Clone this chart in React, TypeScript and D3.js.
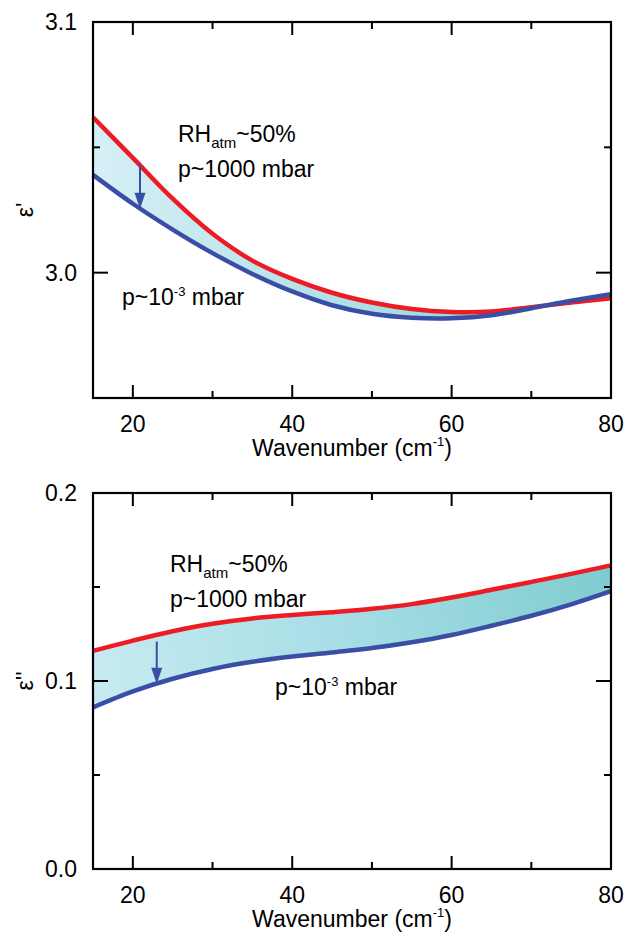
import React from "react";
import * as d3 from "d3";

// ---------- data ----------
const wavenumbers = [15, 20, 25, 30, 35, 40, 45, 50, 55, 60, 65, 70, 75, 80];
// epsilon' (real part)
const epsRealAmbient = [3.062, 3.0458, 3.0295, 3.0155, 3.0048, 2.9975, 2.992, 2.9881, 2.9855, 2.9843, 2.9845, 2.9862, 2.9881, 2.9898];
const epsRealVacuum = [3.039, 3.0275, 3.0172, 3.0078, 2.9995, 2.9925, 2.987, 2.9836, 2.982, 2.9818, 2.983, 2.9858, 2.9888, 2.9914];
// epsilon'' (imaginary part)
const epsImagAmbient = [0.116, 0.1215, 0.1265, 0.1305, 0.1333, 0.1351, 0.1366, 0.1384, 0.1409, 0.1444, 0.1485, 0.1527, 0.157, 0.1615];
const epsImagVacuum = [0.086, 0.0945, 0.1012, 0.1064, 0.1102, 0.113, 0.1152, 0.1175, 0.1206, 0.1245, 0.1294, 0.1347, 0.1408, 0.1478];

const xDomain: [number, number] = [15, 80];
const xMajorTicks = [20, 40, 60, 80];
const xMinorTicks = [30, 50, 70];

const realDomain: [number, number] = [2.95, 3.1];
const realMajorTicks = [3.0, 3.1];
const realMinorTicks = [2.95, 3.05];

const imagDomain: [number, number] = [0.0, 0.2];
const imagMajorTicks = [0.0, 0.1, 0.2];
const imagMinorTicks = [0.05, 0.15];

// arrows: [wavenumber, from value, to value]
const realArrow = [20.9, 3.0435, 3.0255];
const imagArrow = [23.0, 0.121, 0.0985];

const RED = "#ed1c24";
const BLUE = "#3a4ea6";
const FONT = "'Liberation Sans', Arial, Helvetica, sans-serif";
const FS = 23;

type PanelProps = {
  id: string;
  top: number;
  bottom: number;
  yDomain: [number, number];
  yMajor: number[];
  yMinor: number[];
  ambient: number[];
  vacuum: number[];
  arrow: number[];
  yLabel: string;
  gradStops: [string, string, string];
  gradDiag: boolean;
  rhPos: [number, number];
  pPos: [number, number];
  vacPos: [number, number];
};

const LEFT = 93;
const RIGHT = 611;

function Panel(p: PanelProps) {
  const x = d3.scaleLinear().domain(xDomain).range([LEFT, RIGHT]);
  const y = d3.scaleLinear().domain(p.yDomain).range([p.bottom, p.top]);
  const pts = wavenumbers.map((w, i) => ({ w, a: p.ambient[i], v: p.vacuum[i] }));
  const curve = d3.curveCatmullRom.alpha(0.5);
  const area = d3
    .area<{ w: number; a: number; v: number }>()
    .x((d) => x(d.w))
    .y0((d) => y(d.v))
    .y1((d) => y(d.a))
    .curve(curve);
  const lineA = d3
    .line<{ w: number; a: number; v: number }>()
    .x((d) => x(d.w))
    .y((d) => y(d.a))
    .curve(curve);
  const lineV = d3
    .line<{ w: number; a: number; v: number }>()
    .x((d) => x(d.w))
    .y((d) => y(d.v))
    .curve(curve);

  const bandTop = d3.min(pts, (d) => y(Math.max(d.a, d.v))) as number;
  const bandBot = d3.max(pts, (d) => y(Math.min(d.a, d.v))) as number;

  const fmt = d3.format(".1f");
  const ax = x(p.arrow[0]);
  const ay1 = y(p.arrow[1]);
  const ay2 = y(p.arrow[2]);
  const headL = 16;
  const headW = 5.5;
  const majX = 13;
  const majY = 15;
  const minL = 7;
  const midY = (p.top + p.bottom) / 2;

  return (
    <g>
      <defs>
        <linearGradient
          id={p.id}
          gradientUnits="userSpaceOnUse"
          x1={LEFT}
          y1={p.gradDiag ? bandBot : 0}
          x2={RIGHT}
          y2={p.gradDiag ? bandTop : 0}
        >
          <stop offset="0" stopColor={p.gradStops[0]} />
          <stop offset="0.5" stopColor={p.gradStops[1]} />
          <stop offset="1" stopColor={p.gradStops[2]} />
        </linearGradient>
      </defs>
      <path d={area(pts) || ""} fill={`url(#${p.id})`} stroke="none" />
      {/* ticks */}
      {xMajorTicks.map((t) => (
        <g key={"xm" + t}>
          <line x1={x(t)} x2={x(t)} y1={p.bottom} y2={p.bottom - majX} stroke="#000" strokeWidth={2} />
          <line x1={x(t)} x2={x(t)} y1={p.top} y2={p.top + majX} stroke="#000" strokeWidth={2} />
        </g>
      ))}
      {xMinorTicks.map((t) => (
        <g key={"xn" + t}>
          <line x1={x(t)} x2={x(t)} y1={p.bottom} y2={p.bottom - minL} stroke="#000" strokeWidth={2} />
          <line x1={x(t)} x2={x(t)} y1={p.top} y2={p.top + minL} stroke="#000" strokeWidth={2} />
        </g>
      ))}
      {p.yMajor.map((t) => (
        <g key={"ym" + t}>
          <line x1={LEFT} x2={LEFT + majY} y1={y(t)} y2={y(t)} stroke="#000" strokeWidth={2} />
          <line x1={RIGHT} x2={RIGHT - majY} y1={y(t)} y2={y(t)} stroke="#000" strokeWidth={2} />
        </g>
      ))}
      {p.yMinor.map((t) => (
        <g key={"yn" + t}>
          <line x1={LEFT} x2={LEFT + minL} y1={y(t)} y2={y(t)} stroke="#000" strokeWidth={2} />
          <line x1={RIGHT} x2={RIGHT - minL} y1={y(t)} y2={y(t)} stroke="#000" strokeWidth={2} />
        </g>
      ))}
      {/* curves */}
      <path d={lineA(pts) || ""} fill="none" stroke={RED} strokeWidth={4.5} />
      <path d={lineV(pts) || ""} fill="none" stroke={BLUE} strokeWidth={4.5} />
      {/* arrow */}
      <line x1={ax} x2={ax} y1={ay1} y2={ay2 - headL + 2} stroke={BLUE} strokeWidth={2} />
      <path
        d={`M${ax - headW},${ay2 - headL} L${ax + headW},${ay2 - headL} L${ax},${ay2} Z`}
        fill={BLUE}
      />
      {/* frame */}
      <rect x={LEFT} y={p.top} width={RIGHT - LEFT} height={p.bottom - p.top} fill="none" stroke="#000" strokeWidth={2.2} />
      {/* tick labels */}
      {xMajorTicks.map((t) => (
        <text key={"xl" + t} x={x(t)} y={p.bottom + 33.5} textAnchor="middle" fontFamily={FONT} fontSize={FS} fill="#000">
          {t}
        </text>
      ))}
      {p.yMajor.map((t) => (
        <text key={"yl" + t} x={77} y={y(t) + 8.3} textAnchor="end" fontFamily={FONT} fontSize={FS} fill="#000">
          {fmt(t)}
        </text>
      ))}
      {/* axis labels */}
      <text x={(LEFT + RIGHT) / 2} y={p.bottom + 57.5} textAnchor="middle" fontFamily={FONT} fontSize={FS} fill="#000">
        Wavenumber (cm
        <tspan fontSize={13} dy={-9.5}>-1</tspan>
        <tspan dy={9.5}>)</tspan>
      </text>
      <text
        transform={`translate(33,${midY}) rotate(-90)`}
        textAnchor="middle"
        fontFamily={FONT}
        fontSize={FS}
        fill="#000"
      >
        {p.yLabel}
      </text>
      {/* annotations */}
      <text x={p.rhPos[0]} y={p.rhPos[1]} fontFamily={FONT} fontSize={FS} fill="#000">
        RH
        <tspan fontSize={15} dy={6.5}>atm</tspan>
        <tspan dy={-6.5}>~50%</tspan>
      </text>
      <text x={p.pPos[0]} y={p.pPos[1]} fontFamily={FONT} fontSize={FS} fill="#000">
        p~1000 mbar
      </text>
      <text x={p.vacPos[0]} y={p.vacPos[1]} fontFamily={FONT} fontSize={FS} fill="#000">
        p~10
        <tspan fontSize={13} dy={-9}>-3</tspan>
        <tspan dy={9}> mbar</tspan>
      </text>
    </g>
  );
}

export default function App() {
  return (
    <svg
      width={625}
      height={934}
      viewBox="0 0 625 934"
      style={{ position: "absolute", left: 0, top: 0, background: "#fff" }}
    >
      <rect x={0} y={0} width={625} height={934} fill="#fff" />
      <Panel
        id="gradReal"
        top={22}
        bottom={398}
        yDomain={realDomain}
        yMajor={realMajorTicks}
        yMinor={realMinorTicks}
        ambient={epsRealAmbient}
        vacuum={epsRealVacuum}
        arrow={realArrow}
        yLabel={"ε'"}
        gradStops={["#d6f0f6", "#aee0e6", "#80cdd0"]}
        gradDiag={false}
        rhPos={[178, 141.5]}
        pPos={[178, 176.5]}
        vacPos={[122, 305]}
      />
      <Panel
        id="gradImag"
        top={493}
        bottom={869}
        yDomain={imagDomain}
        yMajor={imagMajorTicks}
        yMinor={imagMinorTicks}
        ambient={epsImagAmbient}
        vacuum={epsImagVacuum}
        arrow={imagArrow}
        yLabel={"ε''"}
        gradStops={["#c8ebf2", "#a6dde5", "#7ecccf"]}
        gradDiag={true}
        rhPos={[170, 571.5]}
        pPos={[170, 606.5]}
        vacPos={[275, 695]}
      />
    </svg>
  );
}
